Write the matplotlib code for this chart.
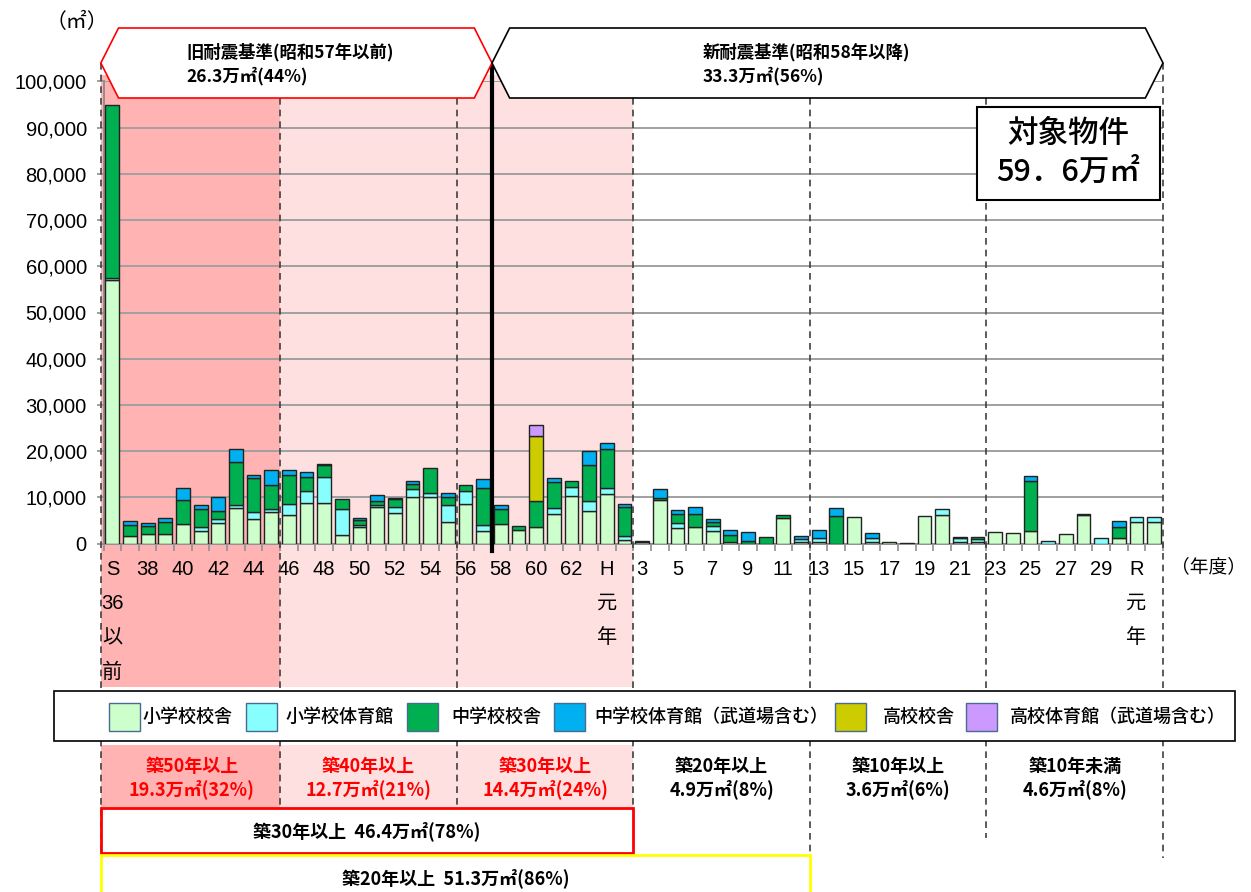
import matplotlib
matplotlib.use("Agg")
import matplotlib.pyplot as plt
import matplotlib.ticker as ticker
from matplotlib.patches import Rectangle, Polygon
from matplotlib.lines import Line2D
from matplotlib.transforms import blended_transform_factory
import numpy as np

plt.rcParams['font.family'] = ['Noto Sans CJK JP', 'DejaVu Sans']
NUM_FONT = ['Liberation Sans', 'Noto Sans CJK JP']

# 年度 (S36以前 ... R2)
years = (['S\n36\n以\n前'] + [str(y) for y in range(37, 64)] +
         ['H\n元\n年'] + [str(y) for y in range(2, 31)] + ['R\n元\n年', '2'])

# 延床面積 (㎡)
elem_bldg = [57000, 1600, 1950, 1950, 4200, 2700, 4500, 7600, 5400, 6800,
             6100, 8800, 8800, 1900, 3500, 7850, 6500, 10100, 10100, 4600,
             8550, 2700, 4200, 3000, 3600, 6400, 10200, 7100, 10800, 650,
             300, 9400, 3300, 3550, 2750, 300, 0, 0, 5500, 300,
             300, 0, 5800, 300, 300, 200, 6000, 6150, 300, 300,
             2400, 2200, 2800, 0, 1950, 6150, 0, 1100, 4550, 4550]
elem_gym = [400, 0, 0, 0, 0, 800, 800, 800, 1450, 600,
            2450, 2600, 5600, 5500, 400, 550, 1500, 1600, 900, 3800,
            2900, 1400, 0, 0, 0, 1200, 2000, 2000, 1200, 950,
            0, 0, 1100, 0, 950, 0, 0, 0, 0, 600,
            800, 0, 0, 900, 0, 0, 0, 1300, 800, 700,
            0, 0, 0, 500, 0, 0, 1200, 0, 1250, 1250]
jr_bldg = [37600, 2300, 1750, 2750, 5200, 4000, 1800, 9300, 7250, 5300,
           6350, 3000, 2600, 2200, 1200, 900, 1600, 1100, 5400, 1600,
           1300, 7900, 3250, 700, 5500, 5700, 1300, 7900, 8400, 6300,
           300, 450, 2050, 2750, 850, 1500, 500, 1400, 650, 0,
           0, 6000, 0, 0, 0, 0, 0, 0, 300, 400,
           0, 0, 10750, 0, 0, 150, 0, 2450, 0, 0]
jr_gym = [0, 1000, 800, 850, 2600, 900, 2900, 2700, 800, 3200,
          1000, 1100, 300, 0, 500, 1100, 300, 800, 0, 1000,
          0, 1900, 950, 0, 0, 900, 0, 3000, 1300, 700,
          0, 2050, 800, 1700, 750, 1100, 1900, 0, 0, 800,
          1800, 1750, 0, 1100, 0, 0, 0, 0, 0, 0,
          0, 0, 1050, 0, 0, 0, 0, 1300, 0, 0]
hs_bldg = [0] * 24 + [14100] + [0] * 35
hs_gym = [0] * 24 + [2500] + [0] * 35

series_names = ['小学校校舎', '小学校体育館', '中学校校舎',
                '中学校体育館（武道場含む）', '高校校舎', '高校体育館（武道場含む）']
series_colors = ['#CCFFCC', '#88FFFF', '#00B050', '#00B0F0', '#CCCC00', '#CC99FF']

# 築年数区分 (first year index of each group)
group_start = [0, 10, 20, 30, 40, 50, 60]
group_title = ['築50年以上', '築40年以上', '築30年以上', '築20年以上', '築10年以上', '築10年未満']
group_area = ['19.3万㎡(32%)', '12.7万㎡(21%)', '14.4万㎡(24%)',
              '4.9万㎡(8%)', '3.6万㎡(6%)', '4.6万㎡(8%)']
group_bg = ['#FFB3B3', '#FFE0E0', '#FFE0E0', None, None, None]
group_fc = ['red', 'red', 'red', 'black', 'black', 'black']

W, H = 1251, 892


def fy(p):
    return 1 - p / H


fig = plt.figure(figsize=(W / 100, H / 100), dpi=100)
ax = fig.add_axes([103.5 / W, fy(543.5), (1163 - 103.5) / W, (543.5 - 81.5) / H])
ax.set_facecolor('none')
trans = blended_transform_factory(ax.transData, fig.transFigure)

x = np.arange(len(years))
bottom = np.zeros(len(years))
for vals, name, col in zip([elem_bldg, elem_gym, jr_bldg, jr_gym, hs_bldg, hs_gym],
                           series_names, series_colors):
    v = np.array(vals, dtype=float)
    m = v > 0
    ax.bar(x[m], v[m], width=0.78, bottom=bottom[m], color=col,
           edgecolor='#222222', linewidth=1.0, zorder=3)
    bottom += v

ax.set_xlim(-0.5, len(years) - 0.5)
ax.set_ylim(0, 100000)
ax.yaxis.set_major_locator(ticker.MultipleLocator(10000))
ax.yaxis.set_major_formatter(ticker.FuncFormatter(lambda v, p: f'{int(v):,}'))
ax.yaxis.grid(True, color='#a0a0a0', linewidth=1.4, zorder=1)
ax.set_axisbelow(True)
for s in ['top', 'right']:
    ax.spines[s].set_visible(False)
for s in ['left', 'bottom']:
    ax.spines[s].set_color('#909090')
    ax.spines[s].set_linewidth(1.4)

ax.set_xticks(x[::2])
ax.set_xticklabels(years[::2], linespacing=2.0)
ax.set_xticks(np.arange(-0.5, len(years)), minor=True)
ax.tick_params(axis='x', which='major', length=0, pad=12, labelsize=14.5)
ax.tick_params(axis='x', which='minor', length=5, color='#909090', width=1.2)
ax.tick_params(axis='y', length=5, color='#909090', width=1.2, pad=7, labelsize=14.5)
for lbl in ax.get_xticklabels() + ax.get_yticklabels():
    lbl.set_fontfamily(NUM_FONT)

# 背景 (築年数区分)
bounds = [g - 0.5 for g in group_start]
left_edge = bounds[0] - 0.15
for i, bg in enumerate(group_bg):
    if bg is None:
        continue
    x0 = left_edge if i == 0 else bounds[i]
    for ytop, ybot in [(75, 687), (745, 808)]:
        fig.add_artist(Rectangle((x0, fy(ybot)), bounds[i + 1] - x0, (ybot - ytop) / H,
                                 transform=trans, facecolor=bg, edgecolor='none', zorder=-5))

# 区分線
line_ends = [855, 808, 808, 808, 855, 838, 858]
for i, b in enumerate(bounds):
    xb = left_edge if i == 0 else b
    fig.add_artist(Line2D([xb, xb], [fy(63), fy(line_ends[i])], transform=trans,
                          color='#404040', linewidth=1.2, linestyle=(0, (4, 3)), zorder=1))

# 旧耐震 / 新耐震
split = 21.5
fig.add_artist(Line2D([split, split], [fy(63), fy(551)], transform=trans,
                      color='black', linewidth=3, zorder=4))


def header(x0, x1, edge):
    inset = 1.0
    pts = [(x0, fy(63)), (x0 + inset, fy(28)), (x1 - inset, fy(28)),
           (x1, fy(63)), (x1 - inset, fy(98)), (x0 + inset, fy(98))]
    fig.add_artist(Polygon(pts, closed=True, transform=trans, facecolor='white',
                           edgecolor=edge, linewidth=1.2, zorder=5))


header(left_edge, split, 'red')
header(split, bounds[-1], 'black')
fig.text(186 / W, fy(52), '旧耐震基準(昭和57年以前)', fontsize=12.5, fontweight='bold',
         va='center', ha='left', zorder=6)
fig.text(186 / W, fy(76), '26.3万㎡(44%)', fontsize=12.5, fontweight='bold',
         va='center', ha='left', zorder=6)
fig.text(703 / W, fy(52), '新耐震基準(昭和58年以降)', fontsize=12.5, fontweight='bold',
         va='center', ha='left', zorder=6)
fig.text(703 / W, fy(76), '33.3万㎡(56%)', fontsize=12.5, fontweight='bold',
         va='center', ha='left', zorder=6)

# 対象物件
fig.add_artist(Rectangle((977 / W, fy(200)), 183 / W, 93 / H, transform=fig.transFigure,
                         facecolor='white', edgecolor='black', linewidth=1.5, zorder=5))
fig.text(1068.5 / W, fy(133), '対象物件', fontsize=22, fontweight='medium',
         ha='center', va='center', zorder=6)
fig.text(1068.5 / W, fy(172), '59．6万㎡', fontsize=22, fontweight='medium',
         ha='center', va='center', zorder=6)

fig.text(77 / W, fy(22), '（㎡）', fontsize=15, ha='center', va='center')
fig.text(1209 / W, fy(567), '（年度）', fontsize=13.5, ha='center', va='center')

# 凡例
fig.add_artist(Rectangle((54 / W, fy(741)), 1181 / W, 50 / H, transform=fig.transFigure,
                         facecolor='white', edgecolor='black', linewidth=1.2, zorder=5))
patch_x = [109, 246, 407, 554, 835, 966]
text_x = [143, 286, 451, 594, 883, 1010]
for px, tx, name, col in zip(patch_x, text_x, series_names, series_colors):
    fig.add_artist(Rectangle((px / W, fy(731)), 31 / W, 28 / H, transform=fig.transFigure,
                             facecolor=col, edgecolor='#4a6a90', linewidth=1.0, zorder=6))
    fig.text(tx / W, fy(717), name, fontsize=13, fontweight='medium',
             ha='left', va='center', zorder=7)

# 築年数別の面積
for i in range(len(group_title)):
    xc = (bounds[i] + bounds[i + 1]) / 2
    fig.text(xc, fy(767), group_title[i], transform=trans, fontsize=13, fontweight='bold',
             color=group_fc[i], ha='center', va='center', zorder=6)
    fig.text(xc, fy(789), group_area[i], transform=trans, fontsize=13, fontweight='bold',
             color=group_fc[i], ha='center', va='center', zorder=6)

fig.add_artist(Rectangle((left_edge, fy(853)), bounds[3] - left_edge, 45 / H, transform=trans,
                         facecolor='white', edgecolor='red', linewidth=2, zorder=6))
fig.text((left_edge + bounds[3]) / 2, fy(831), '築30年以上  46.4万㎡(78%)', transform=trans,
         fontsize=13, fontweight='bold', ha='center', va='center', zorder=7)
fig.add_artist(Rectangle((left_edge, fy(900)), bounds[4] - left_edge, 45 / H, transform=trans,
                         facecolor='white', edgecolor='#FFFF00', linewidth=2, zorder=6))
fig.text((left_edge + bounds[4]) / 2, fy(878), '築20年以上  51.3万㎡(86%)', transform=trans,
         fontsize=13, fontweight='bold', ha='center', va='center', zorder=7)

fig.savefig('out.png', dpi=100)
